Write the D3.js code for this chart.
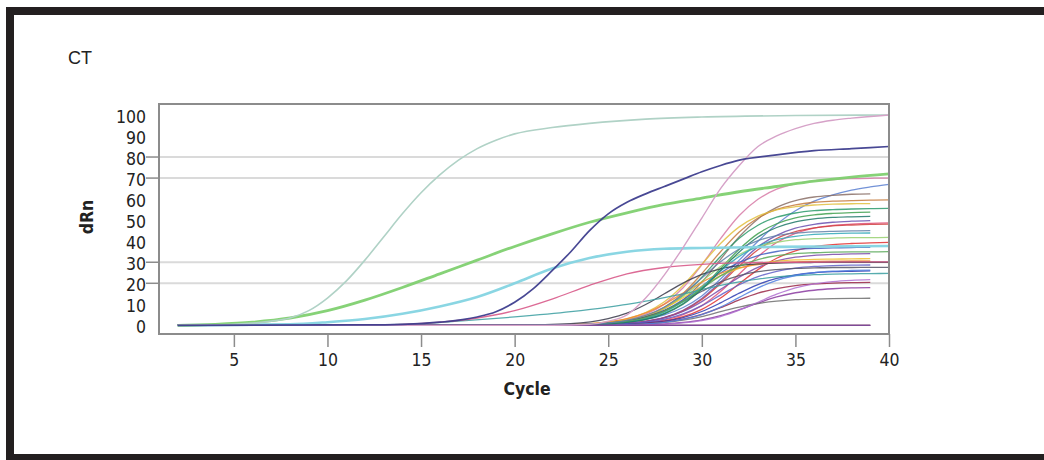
<!DOCTYPE html>
<html><head><meta charset="utf-8">
<script src="https://cdn.jsdelivr.net/npm/d3@7"></script>
<style>
html,body{margin:0;padding:0;background:#fff;}
svg{display:block;}
.lbl{font-family:"DejaVu Sans Condensed","DejaVu Sans",sans-serif;font-stretch:condensed;fill:#222;}
</style></head><body>
<svg id="c" width="1044" height="460"></svg>
<script>
// ---- axis / tick data ----
const xTicks = [5, 10, 15, 20, 25, 30, 35, 40];
const yTickLabels = [0, 10, 20, 30, 40, 50, 60, 70, 80, 90, 100];
const gridValues = [20, 30, 70, 80];
const xDomain = [1, 40];
const yDomain = [-4.1, 105.2];

// ---- early / distinct curves: [cycles], [dRn] ----
const paleCycles = [2, 5, 7, 8, 9, 10, 11, 12, 13, 14, 15, 16, 17, 18, 19, 20, 22, 24, 27, 30, 35, 40];
const paleValues = [0, 0.5, 2, 3.5, 7, 13, 21, 31, 42, 53, 63, 71.5, 78.5, 84, 88, 91, 94, 96, 98, 99, 99.7, 100];

const greenCycles = [2, 4, 6, 8, 10, 12, 14, 16, 18, 20, 22, 24, 26, 28, 30, 32, 34, 36, 38, 40];
const greenValues = [0, 0.5, 1.5, 3.5, 7, 12, 18, 24.5, 31, 37.5, 43.5, 49, 53.5, 57.5, 60.5, 63.5, 66, 68.5, 70.5, 72];

const cyanCycles = [2, 8, 10, 12, 14, 16, 18, 20, 22, 24, 26, 28, 30, 34, 40];
const cyanValues = [0, 0.5, 1.5, 3, 5.5, 9, 13.5, 20, 27, 32, 35, 36.4, 36.8, 37.3, 37.7];

const navyCycles = [2, 12, 14, 16, 18, 19, 20, 21, 22, 23, 24, 25, 26, 27, 28, 29, 30, 31, 32, 34, 36, 38, 40];
const navyValues = [0, 0.2, 0.5, 1.5, 4, 6.5, 11, 17.5, 26, 35, 45, 53, 58.5, 62.5, 66, 69.5, 73, 76, 78.5, 81, 83, 84, 85];

const mauveCycles = [2, 22, 24, 25, 26, 27, 28, 29, 30, 31, 32, 33, 34, 35, 36, 37, 38, 40];
const mauveValues = [0, 0, 0.5, 2, 5, 13, 24, 37, 51, 65, 76, 85, 90, 93.5, 96, 97.5, 98.5, 100];

const crimsonCycles = [2, 12, 14, 16, 18, 20, 22, 24, 26, 28, 30, 32, 35, 40];
const crimsonValues = [0, 0.2, 0.5, 1.5, 3.5, 7, 12.5, 19, 24.5, 27.5, 29, 29.7, 30, 30.2];

// ---- late-rising bunch: shared cycles, one value list per well ----
const bunchCycles = [2, 10, 14, 17, 20, 23, 25, 26, 27, 28, 29, 30, 31, 32, 33, 34, 35, 36, 37, 38, 39, 40];
const bunchColors = ["#d77aa6","#5a7fd0","#8a6e66","#c47a3c","#e2c03e","#2a9a6a","#3ea04e","#6a50b0",
  "#e0507a","#d04040","#96d070","#e03030","#4060c0","#7a4aa8","#f0c030","#f08a30","#3a3a4a","#6060c8",
  "#555566","#2a3ab0","#3a9ea0","#9a2848","#8a3aa0","#6f6f6f","#5a2040","#30a8b8","#58a858","#5080e0",
  "#b070d0","#207868","#6080a8","#7a2a6a","#8050a0"];
const bunchValues = [
  [0,0,0,0,0,0.3,1.3,2.7,5.3,10.1,17.9,28.8,41.2,52.2,59.9,64.7,67.3,68.7,69.3,69.7,69.9,70],
  [0,0,0,0,0,0.2,0.8,1.5,2.8,5,8.5,14,22,31,40,48,54.5,59,62,64.3,65.8,67],
  [0,0,0,0,0,0.2,0.9,1.7,3.4,6.6,12.1,20.6,31.4,42.1,50.6,56.1,59.3,61,61.8,62.3,62.5],
  [0,0,0,0,0,0.3,1.1,2.3,4.5,8.6,15.2,24.6,35,44.4,51,55.1,57.3,58.5,59,59.3,59.5,59.6],
  [0,0,0,0,0,0.4,1.6,3.1,6.1,11.2,19.1,29,38.9,46.8,51.9,54.9,56.4,57.2,57.6,57.8,57.9],
  [0,0,0,0,0,0.3,1.1,2.2,4.2,8,14.2,22.9,32.7,41.4,47.6,51.4,53.4,54.5,55,55.3,55.5,55.6],
  [0,0,0,0,0,0.2,0.7,1.5,2.9,5.7,10.4,17.8,27,36.2,43.6,48.3,51.1,52.5,53.2,53.6,53.8],
  [0,0,0,0,0,0.1,0.5,1,2,3.8,7.2,12.8,20.6,29.4,37.3,42.8,46.2,48,49,49.5,49.8],
  [0,0,0,0,0,0.1,0.3,0.7,1.3,2.6,5.1,9.4,16.1,24.4,32.7,39.4,43.7,46.2,47.5,48.1,48.5,48.7],
  [0,0,0,0,0,0.1,0.5,0.9,1.9,3.7,6.9,12.3,19.9,28.3,35.9,41.3,44.5,46.3,47.3,47.7,48,48.1],
  [0,0,0,0,0,0.3,1.1,2.3,4.4,8.1,13.8,20.9,28,33.7,37.4,39.5,40.7,41.2,41.5,41.7,41.7,41.8],
  [0,0,0,0,0,0.1,0.3,0.5,1.1,2.1,4.1,7.6,13,19.8,26.5,31.9,35.4,37.4,38.4,38.9,39.2,39.4],
  [0,0,0,0,0,0.2,1,2,3.9,7.2,12.2,18.6,24.9,29.9,33.2,35.1,36.1,36.6,36.8,37,37.1],
  [0,0,0,0,0,0.1,0.5,0.9,1.8,3.6,6.6,11.3,17.1,22.9,27.6,30.6,32.4,33.3,33.7,34,34.1],
  [0,0,0,0,0,0.3,1.2,2.4,4.6,8.1,13.1,18.6,23.6,27.1,29.3,30.5,31.1,31.4,31.5,31.6,31.7],
  [0,0,0,0,0,0.4,1.7,3.2,5.9,10.1,15.3,20.5,24.7,27.4,28.9,29.8,30.2,30.4,30.5,30.6,30.6],
  [0,0,0,0,0.1,0.8,3.2,5.8,9.9,15,20.1,24.2,26.9,28.4,29.2,29.6,29.8,29.9,30,30,30,30],
  [0,0,0,0,0,0.1,0.4,0.8,1.5,3,5.5,9.4,14.4,19.3,23.2,25.7,27.2,28,28.4,28.6,28.7],
  [0,0,0,0,0,0.3,1.1,2.1,4,7,11.4,16.2,20.6,23.6,25.5,26.5,27.1,27.3,27.5,27.5,27.6,27.6],
  [0,0,0,0,0,0.1,0.2,0.5,1,2,3.7,6.6,10.7,15.3,19.4,22.3,24,25,25.5,25.7,25.9],
  [0,0,0.5,2,4,6.5,8.7,10,11.5,13.2,15,17,19,20.7,22,23,23.7,24.1,24.4,24.5,24.6,24.7],
  [0,0,0,0,0,0,0.2,0.4,0.8,1.6,3,5.2,8.4,12.1,15.3,17.5,18.9,19.7,20.1,20.3,20.4],
  [0,0,0,0,0,0,0.1,0.2,0.3,0.7,1.4,2.6,4.6,7.5,10.6,13.5,15.5,16.7,17.4,17.8,17.9],
  [0,0,0,0,0,0,0.2,0.3,0.7,1.4,2.5,4.2,6.5,8.7,10.4,11.5,12.2,12.5,12.7,12.8,12.9],
  [0,0,0,0,0,0,0,0,0,0,0,0,0,0,0,0,0,0,0,0,0],
  [0,0,0,0,0,0.2,0.8,1.7,3.3,6.3,11.2,18.1,25.9,32.8,37.7,40.7,42.3,43.2,43.6,43.8,43.9],
  [0,0,0,0,0,0.2,0.9,1.9,3.7,6.8,11.5,17.5,23.5,28.2,31.3,33.1,34.1,34.5,34.8,34.9,34.9,35],
  [0,0,0,0,0,0,0.2,0.4,0.7,1.4,2.8,5.1,8.7,13.3,17.8,21.4,23.7,25.1,25.8,26.1,26.3],
  [0,0,0,0,0,0,0.1,0.1,0.3,0.6,1.2,2.3,4.2,7.2,11,14.8,17.8,19.7,20.8,21.4,21.7],
  [0,0,0,0,0,0.2,0.7,1.4,2.8,5.5,10,17.1,26,34.9,42,46.5,49.2,50.6,51.3,51.6,51.8],
  [0,0,0,0,0,0.3,1.2,2.4,4.7,8.7,14.8,22.5,30.2,36.3,40.3,42.6,43.8,44.4,44.7,44.9,45],
  [0,0,0,0,0,0,0,0,0,0,0,0,0,0,0,0,0,0,0,0,0],
  [0,0,0,0,0,0,0,0,0,0,0,0,0,0,0,0,0,0,0,0,0]
];

// ---- drawing ----
const svg = d3.select("#c");
const W = 1044, H = 460;
const plot = {left: 159, right: 889, top: 104, bottom: 334};

// outer black frame (top, left, bottom bands)
svg.append("rect").attr("x", 6).attr("y", 7).attr("width", W - 6).attr("height", 8).attr("fill", "#231f20");
svg.append("rect").attr("x", 6).attr("y", 7).attr("width", 8).attr("height", H - 7).attr("fill", "#231f20");
svg.append("rect").attr("x", 6).attr("y", 454).attr("width", W - 6).attr("height", 6).attr("fill", "#231f20");

svg.append("text").attr("x", 68).attr("y", 64)
  .style("font-family", "'Liberation Sans', Arial, sans-serif").style("font-size", "18px").attr("fill", "#222")
  .text("CT");

const x = d3.scaleLinear().domain(xDomain).range([plot.left, plot.right]);
const y = d3.scaleLinear().domain(yDomain).range([plot.bottom, plot.top]);

// gridlines
svg.append("g").selectAll("line").data(gridValues).join("line")
  .attr("x1", plot.left).attr("x2", plot.right)
  .attr("y1", d => y(d)).attr("y2", d => y(d))
  .attr("stroke", "#dadada").attr("stroke-width", 2);

// y-axis labels (all) and ticks (only grid values)
const yAxis = svg.append("g").attr("transform", `translate(${plot.left},0)`)
  .call(d3.axisLeft(y).tickValues(yTickLabels).tickSize(0).tickPadding(13));
yAxis.select(".domain").remove();
yAxis.selectAll("text").attr("class", "lbl").style("font-size", "17.5px").attr("dy", "0.32em")
  .attr("transform", "translate(0,2)");
svg.append("g").selectAll("line").data(gridValues).join("line")
  .attr("x1", plot.left - 13).attr("x2", plot.left)
  .attr("y1", d => y(d)).attr("y2", d => y(d))
  .attr("stroke", "#8c8c8c").attr("stroke-width", 1.5);

// x-axis
const xAxis = svg.append("g").attr("transform", `translate(0,${plot.bottom})`)
  .call(d3.axisBottom(x).tickValues(xTicks).tickSizeInner(13).tickSizeOuter(0).tickPadding(7));
xAxis.select(".domain").remove();
xAxis.selectAll("line").attr("stroke", "#8c8c8c").attr("stroke-width", 1.5);
xAxis.selectAll("text").attr("class", "lbl").style("font-size", "17.5px");

// axis titles
svg.append("text").attr("class", "lbl").attr("x", 527).attr("y", 395)
  .attr("text-anchor", "middle").style("font-size", "17.5px").style("font-weight", "bold").text("Cycle");
svg.append("text").attr("class", "lbl")
  .attr("transform", "translate(93,217) rotate(-90)")
  .attr("text-anchor", "middle").style("font-size", "17.5px").style("font-weight", "bold").text("dRn");

// curves
const line = d3.line().x(d => x(d[0])).y(d => y(d[1])).curve(d3.curveMonotoneX);
const curves = svg.append("g");
bunchValues.forEach((vals, i) => {
  const pts = vals.map((v, j) => [bunchCycles[j], v]);
  curves.append("path").attr("d", line(pts)).attr("fill", "none")
    .attr("stroke", bunchColors[i]).attr("stroke-width", 1.3).attr("stroke-opacity", 0.85);
});
function special(cs, vs, color, w, op) {
  curves.append("path").attr("d", line(cs.map((c, j) => [c, vs[j]]))).attr("fill", "none")
    .attr("stroke", color).attr("stroke-width", w).attr("stroke-opacity", op);
}
special(crimsonCycles, crimsonValues, "#d85a8a", 1.3, 0.9);
special(cyanCycles, cyanValues, "#84d4e2", 2.6, 0.95);
special(greenCycles, greenValues, "#80d070", 2.8, 0.95);
special(paleCycles, paleValues, "#b0d2c6", 1.6, 1);
special(mauveCycles, mauveValues, "#d6a2c8", 1.4, 1);
special(navyCycles, navyValues, "#3e3e8e", 1.7, 0.95);

// plot frame
svg.append("rect").attr("x", plot.left).attr("y", plot.top)
  .attr("width", plot.right - plot.left).attr("height", plot.bottom - plot.top)
  .attr("fill", "none").attr("stroke", "#8c8c8c").attr("stroke-width", 2);
</script></body></html>
